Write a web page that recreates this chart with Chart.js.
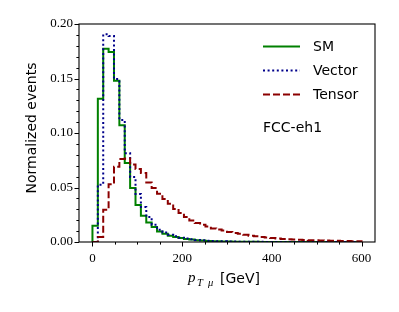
<!DOCTYPE html>
<html>
<head>
<meta charset="utf-8">
<script src="https://cdn.jsdelivr.net/npm/chart.js@4/dist/chart.umd.min.js"></script>
<style>
html,body{margin:0;padding:0;background:#fff;}
canvas{display:block;}
</style>
</head>
<body>
<canvas id="c" width="399" height="312"></canvas>
<script>
// ---- data (normalized events per 12 GeV bin, 0..600 GeV) ----
const binWidth = 12;
const smValues = [0.015,0.1315,0.1773,0.1743,0.148,0.107,0.0725,0.0495,0.034,0.0241,
  0.018,0.0138,0.0097,0.0076,0.0058,0.0046,0.0037,0.0028,0.0022,0.0017,
  0.0013,0.0010,0.0008,0.0006,0.0005,0.0004,0.0003,0.0003,0.0002,0.0002,
  0.0002,0.0001,0.0001,0.0001,0.0001,0.0001,0,0,0,0,
  0,0,0,0,0,0,0,0,0,0];
const vectorValues = [0.0,0.0526,0.1905,0.189,0.1495,0.112,0.0815,0.0596,0.044,0.032,
  0.0229,0.0159,0.0113,0.0088,0.0067,0.0052,0.004,0.0031,0.0025,0.0019,
  0.0015,0.0012,0.0009,0.0007,0.0006,0.0005,0.0004,0.0003,0.0003,0.0002,
  0.0002,0.0002,0.0001,0.0001,0.0001,0.0001,0.0001,0,0,0,
  0,0,0,0,0,0,0,0,0,0];
const tensorValues = [0.0,0.0045,0.0296,0.053,0.069,0.0762,0.0765,0.071,0.067,0.0633,
  0.0547,0.0495,0.0443,0.0394,0.0351,0.0303,0.0266,0.0229,0.0198,0.0174,
  0.0159,0.0143,0.0125,0.0115,0.0106,0.0092,0.0083,0.0075,0.0067,0.0058,
  0.0052,0.0046,0.0041,0.0037,0.0032,0.0028,0.0025,0.0023,0.0021,0.0019,
  0.0017,0.0016,0.0014,0.0013,0.0012,0.0011,0.0010,0.0009,0.0008,0.0007];
const seriesNames = ['SM','Vector','Tensor'];
const xTickValues = [0,200,400,600];
const yTickValues = [0,0.05,0.10,0.15,0.20];
const annotationText = 'FCC-eh1';

function stepPoints(vals){
  const pts = [{x:0,y:0}];
  vals.forEach((v,i)=>{
    pts.push({x:i*binWidth,y:v});
    pts.push({x:(i+1)*binWidth,y:v});
  });
  pts.push({x:vals.length*binWidth,y:0});
  return pts;
}

const styles = [
  {color:'#008000', dash:[]},
  {color:'#00008b', dash:[2,2.6]},
  {color:'#8b0000', dash:[7,3]}
];

const overlay = {
  id:'overlay',
  afterDraw(chart){
    const {ctx, chartArea:a, scales:{x,y}} = chart;
    ctx.save();
    ctx.strokeStyle='#000';
    ctx.lineWidth=1.1;
    ctx.setLineDash([]);
    ctx.strokeRect(a.left, a.top, a.right-a.left, a.bottom-a.top);
    // ticks
    ctx.lineWidth=1;
    ctx.beginPath();
    for(let v=0; v<=600; v+=50){
      const px = Math.round(x.getPixelForValue(v))+0.5;
      const len = (v%200===0)?4.5:2.6;
      ctx.moveTo(px, a.bottom); ctx.lineTo(px, a.bottom+len);
    }
    for(let k=0; k<=20; k++){
      const v=k*0.01;
      const py = Math.round(y.getPixelForValue(v))+0.5;
      const len = (k%5===0)?4.5:2.6;
      ctx.moveTo(a.left, py); ctx.lineTo(a.left-len, py);
    }
    ctx.stroke();
    // legend
    const ly=[46.5,70.5,94.5];
    chart.data.datasets.forEach((ds,i)=>{
      ctx.strokeStyle=ds.borderColor;
      ctx.lineWidth=2;
      ctx.lineCap='butt';
      ctx.setLineDash(ds.borderDash||[]);
      ctx.beginPath();
      ctx.moveTo(263, ly[i]); ctx.lineTo(300, ly[i]);
      ctx.stroke();
      ctx.setLineDash([]);
      ctx.fillStyle='#000';
      ctx.font='14px "DejaVu Sans"';
      ctx.textBaseline='middle';
      ctx.textAlign='left';
      ctx.fillText(ds.label, 313, ly[i]+0.5);
    });
    ctx.fillText(annotationText, 263, 128.5);
    // y title
    ctx.save();
    ctx.translate(35.5, 128);
    ctx.rotate(-Math.PI/2);
    ctx.textAlign='center';
    ctx.textBaseline='alphabetic';
    ctx.font='14px "DejaVu Sans"';
    ctx.fillText('Normalized events', 0, 0);
    ctx.restore();
    // x title: p_{T mu} [GeV]
    ctx.textBaseline='alphabetic';
    ctx.textAlign='left';
    ctx.font='italic 15px "Liberation Serif"';
    ctx.fillText('p', 188, 282);
    ctx.font='italic 10.5px "Liberation Serif"';
    ctx.fillText('T', 197, 285.5);
    ctx.fillText('\u03bc', 208, 285.5);
    ctx.font='14px "DejaVu Sans"';
    ctx.fillText('[GeV]', 220, 283);
    ctx.restore();
  }
};

new Chart(document.getElementById('c'), {
  type:'line',
  data:{
    datasets:[smValues, vectorValues, tensorValues].map((vals,i)=>({
      label: seriesNames[i],
      data: stepPoints(vals),
      borderColor: styles[i].color,
      borderDash: styles[i].dash,
      borderWidth: 2,
      borderCapStyle:'butt',
      borderJoinStyle:'miter',
      pointRadius:0,
      tension:0,
      fill:false,
      order: 3-i
    }))
  },
  options:{
    responsive:false,
    animation:false,
    devicePixelRatio:1,
    layout:{padding:{left:0,top:24,right:24,bottom:0}},
    plugins:{legend:{display:false}, tooltip:{enabled:false}},
    scales:{
      x:{
        type:'linear', min:-30, max:630,
        grid:{display:false, drawTicks:false},
        border:{display:false},
        afterBuildTicks: s => { s.ticks = xTickValues.map(v=>({value:v})); },
        afterFit: s => { s.height = 70; },
        ticks:{
          padding:9, color:'#000', maxRotation:0, autoSkip:false,
          font:{family:'"Liberation Serif"', size:13},
          callback: v => String(v)
        }
      },
      y:{
        type:'linear', min:0, max:0.2,
        grid:{display:false, drawTicks:false},
        border:{display:false},
        afterBuildTicks: s => { s.ticks = yTickValues.map(v=>({value:v})); },
        afterFit: s => { s.width = 79; },
        ticks:{
          padding:6, color:'#000', autoSkip:false,
          font:{family:'"Liberation Serif"', size:13},
          callback: v => Number(v).toFixed(2)
        }
      }
    }
  },
  plugins:[overlay]
});
</script>
</body>
</html>
